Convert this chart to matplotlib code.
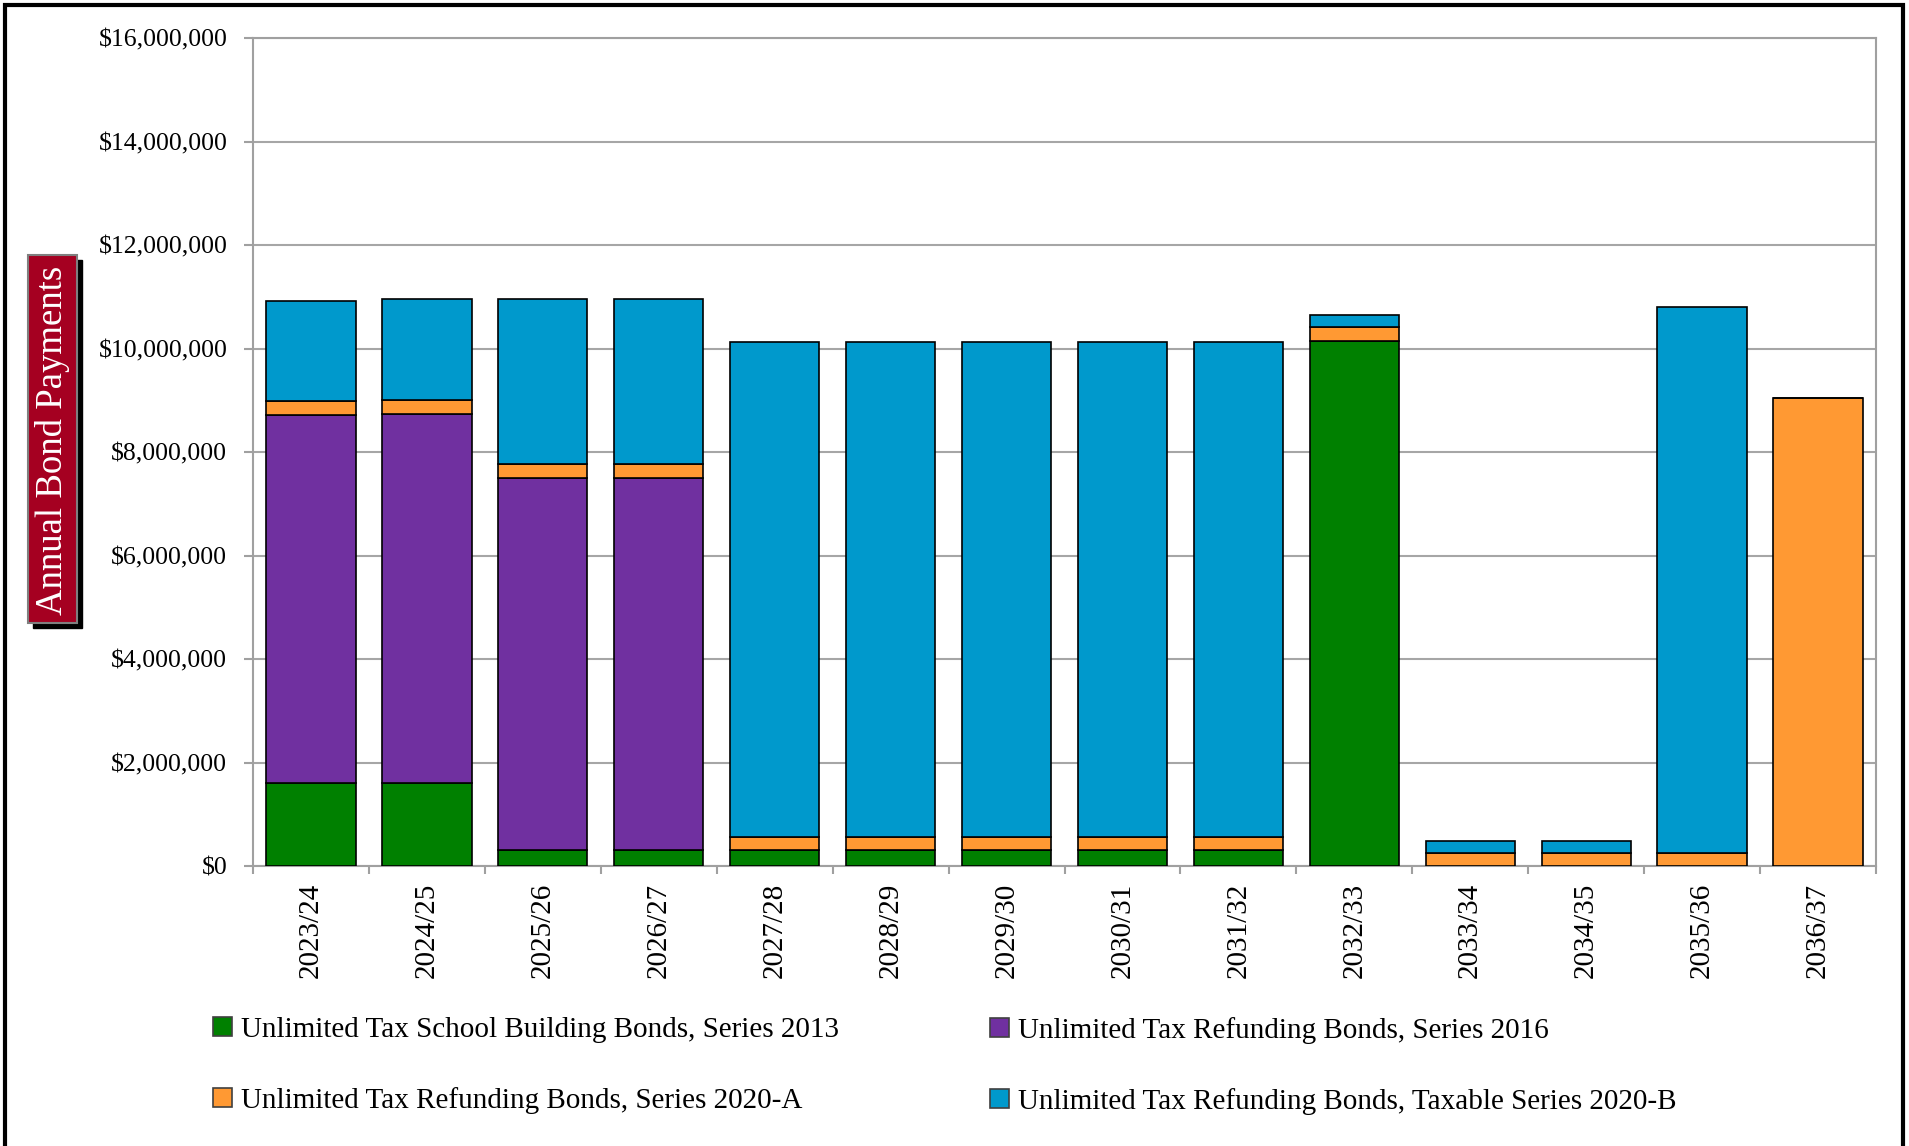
import matplotlib
matplotlib.use("Agg")
import matplotlib.pyplot as plt
import numpy as np
from matplotlib.patches import Patch, Rectangle
from matplotlib.ticker import FuncFormatter, MultipleLocator

plt.rcParams['font.family'] = ['Liberation Serif', 'DejaVu Serif']

years = ["2023/24", "2024/25", "2025/26", "2026/27", "2027/28", "2028/29", "2029/30",
         "2030/31", "2031/32", "2032/33", "2033/34", "2034/35", "2035/36", "2036/37"]

series_names = ["Unlimited Tax School Building Bonds, Series 2013",
                "Unlimited Tax Refunding Bonds, Series 2016",
                "Unlimited Tax Refunding Bonds, Series 2020-A",
                "Unlimited Tax Refunding Bonds, Taxable Series 2020-B"]

s2013 = [1600000, 1600000, 300000, 300000, 300000, 300000, 300000, 300000, 300000,
         10140000, 0, 0, 0, 0]
s2016 = [7110000, 7130000, 7190000, 7190000, 0, 0, 0, 0, 0, 0, 0, 0, 0, 0]
s2020a = [270000, 270000, 270000, 270000, 260000, 260000, 260000, 260000, 260000,
          270000, 250000, 250000, 250000, 9050000]
s2020b = [1940000, 1950000, 3200000, 3200000, 9570000, 9560000, 9570000, 9560000,
          9570000, 240000, 230000, 230000, 10560000, 0]

colors = ["#008000", "#7030A0", "#FF9933", "#0099CC"]

W, H = 1909, 1146
fig = plt.figure(figsize=(W / 100, H / 100), dpi=100)
ax = fig.add_axes([253 / W, 1 - 866 / H, (1876 - 253) / W, (866 - 38) / H])

x = np.arange(len(years))
bottom = np.zeros(len(years))
for vals, c in zip([s2013, s2016, s2020a, s2020b], colors):
    v = np.array(vals, dtype=float)
    ax.bar(x, v, bottom=bottom, width=0.77, color=c, edgecolor="black", linewidth=1.2, zorder=3)
    bottom += v

ax.set_xlim(-0.5, len(years) - 0.5)
ax.set_ylim(0, 16000000)
ax.yaxis.set_major_locator(MultipleLocator(2000000))
ax.yaxis.set_major_formatter(FuncFormatter(lambda v, p: "${:,.0f}".format(v)))
ax.grid(axis="y", color="#A6A6A6", linewidth=1.5, zorder=0)
ax.set_axisbelow(True)
for s in ax.spines.values():
    s.set_color("#A0A0A0")
    s.set_linewidth(1.5)

ax.set_xticks(x)
ax.set_xticklabels(years, rotation=90, fontsize=21)
ax.tick_params(axis="x", which="major", length=0, pad=12)
ax.set_xticks(np.arange(len(years) + 1) - 0.5, minor=True)
ax.tick_params(axis="x", which="minor", length=6, width=1.5, color="#A0A0A0")
ax.tick_params(axis="y", length=6.5, width=1.5, color="#A0A0A0", pad=12, labelsize=18.5)

# Y label in red box with shadow
bx0, bx1, by0, by1 = 28, 77, 255, 623
fig.add_artist(Rectangle(((bx0 + 5) / W, 1 - (by1 + 5) / H), (bx1 - bx0) / W, (by1 - by0) / H,
                         transform=fig.transFigure, facecolor="black", edgecolor="black", linewidth=1))
fig.add_artist(Rectangle((bx0 / W, 1 - by1 / H), (bx1 - bx0) / W, (by1 - by0) / H,
                         transform=fig.transFigure, facecolor="#A50021", edgecolor="#7F7F7F", linewidth=1.5))
fig.text(53 / W, 1 - 440 / H, "Annual Bond Payments", rotation=90, color="white",
         fontsize=26.5, ha="center", va="center")

# Legend in two columns
handles = [Patch(facecolor=c, edgecolor="#404040", linewidth=1.2) for c in colors]
common = dict(loc="upper left", frameon=False, fontsize=21, handlelength=0.65, handleheight=0.65,
              handletextpad=0.3, labelspacing=1.5, borderaxespad=0, borderpad=0)
leg1 = fig.legend([handles[0], handles[2]], [series_names[0], series_names[2]],
                  bbox_to_anchor=(213 / W, 1 - 1017 / H), **common)
leg2 = fig.legend([handles[1], handles[3]], [series_names[1], series_names[3]],
                  bbox_to_anchor=(990 / W, 1 - 1017 / H), **common)

# Figure border (bottom edge cut off)
fig.add_artist(Rectangle((5 / W, -0.05), (1903 - 5) / W, 1.05 - 5 / H,
                         transform=fig.transFigure, fill=False, edgecolor="black", linewidth=3))

fig.savefig("out.png", dpi=100)
